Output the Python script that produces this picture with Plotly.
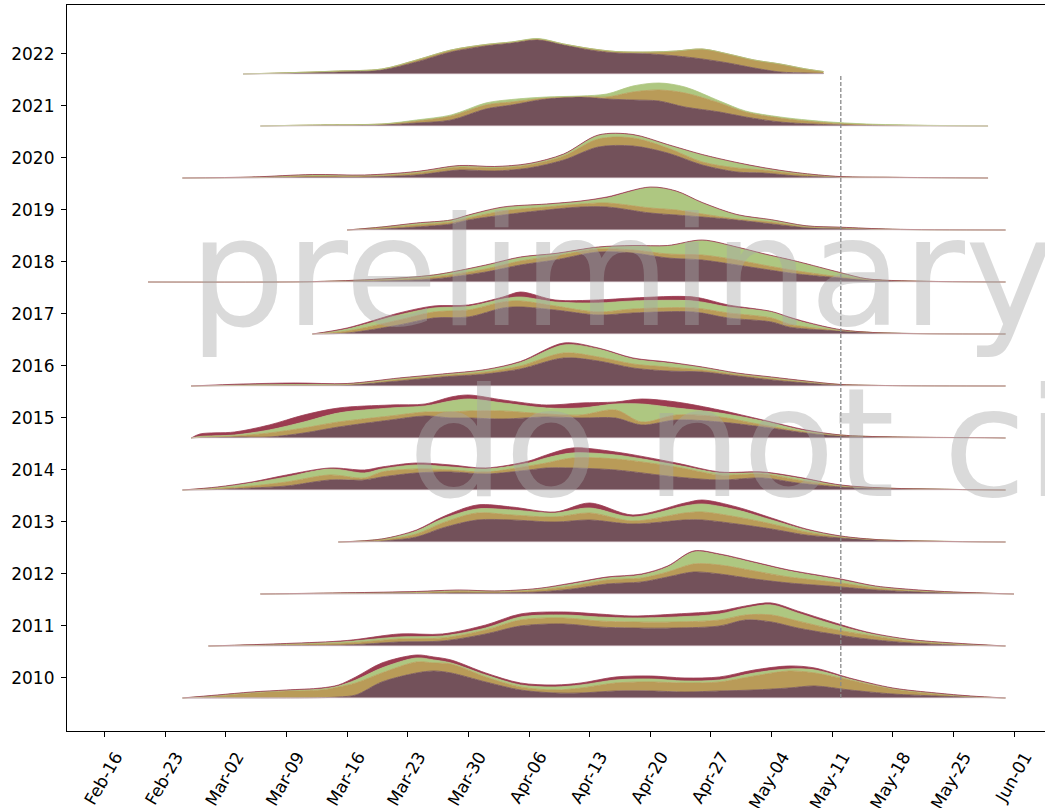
import numpy as np
import pandas as pd
import plotly.graph_objects as go

# Calendar used to place month-day values on a common date axis (non-leap year)
REF_YEAR = 2019

YEARS = list(range(2010, 2023))
TICK_DAYS = ["Feb-16", "Feb-23", "Mar-02", "Mar-09", "Mar-16", "Mar-23", "Mar-30",
             "Apr-06", "Apr-13", "Apr-20", "Apr-27", "May-04", "May-11", "May-18",
             "May-25", "Jun-01"]
CUTOFF_DAY = "May-12"
WATERMARK_LINES = ["preliminary", "do not cite"]

# Sample days per year and the thickness of each stacked layer on those days
DATES = {
    2010: ["Feb-25", "Mar-01", "Mar-05", "Mar-09", "Mar-13", "Mar-15", "Mar-17", "Mar-20", "Mar-24",
           "Mar-26", "Mar-28", "Apr-01", "Apr-05", "Apr-09", "Apr-12", "Apr-16", "Apr-20", "Apr-24",
           "Apr-28", "May-02", "May-06", "May-09", "May-13", "May-18", "May-23", "May-27", "May-31"],
    2011: ["Feb-28", "Mar-09", "Mar-16", "Mar-22", "Mar-27", "Apr-01", "Apr-05", "Apr-10", "Apr-14",
           "Apr-18", "Apr-23", "Apr-28", "May-01", "May-04", "May-07", "May-11", "May-15", "May-20",
           "May-25", "May-31"],
    2012: ["Mar-06", "Mar-16", "Mar-24", "Mar-29", "Apr-02", "Apr-07", "Apr-11", "Apr-15", "Apr-19",
           "Apr-22", "Apr-25", "Apr-28", "May-02", "May-06", "May-12", "May-16", "May-21", "May-25",
           "Jun-01"],
    2013: ["Mar-15", "Mar-20", "Mar-24", "Mar-27", "Mar-31", "Apr-04", "Apr-09", "Apr-13", "Apr-18",
           "Apr-24", "Apr-26", "Apr-30", "May-04", "May-08", "May-12", "May-17", "May-31"],
    2014: ["Feb-25", "Mar-01", "Mar-05", "Mar-09", "Mar-14", "Mar-18", "Mar-20", "Mar-24", "Mar-28",
           "Apr-01", "Apr-06", "Apr-08", "Apr-11", "Apr-16", "Apr-23", "Apr-28", "May-03", "May-07",
           "May-12", "May-17", "May-31"],
    2015: ["Feb-26", "Feb-27", "Mar-03", "Mar-07", "Mar-11", "Mar-15", "Mar-21", "Mar-25", "Mar-28",
           "Mar-30", "Apr-03", "Apr-08", "Apr-12", "Apr-16", "Apr-19", "Apr-23", "Apr-28", "May-03",
           "May-08", "May-12", "May-18", "May-29", "May-31"],
    2016: ["Feb-26", "Mar-04", "Mar-10", "Mar-16", "Mar-22", "Mar-27", "Apr-01", "Apr-05", "Apr-10",
           "Apr-14", "Apr-18", "Apr-22", "Apr-26", "Apr-30", "May-04", "May-08", "May-12", "May-18",
           "May-31"],
    2017: ["Mar-12", "Mar-16", "Mar-22", "Mar-26", "Mar-30", "Apr-03", "Apr-05", "Apr-09", "Apr-14",
           "Apr-18", "Apr-25", "Apr-29", "May-04", "May-06", "May-08", "May-12", "May-17", "May-31"],
    2018: ["Feb-21", "Mar-11", "Mar-20", "Mar-26", "Apr-01", "Apr-05", "Apr-09", "Apr-14", "Apr-18",
           "Apr-22", "Apr-26", "Apr-30", "May-03", "May-07", "May-12", "May-15", "May-19", "May-31"],
    2019: ["Mar-16", "Mar-20", "Mar-24", "Mar-28", "Mar-30", "Apr-03", "Apr-08", "Apr-12", "Apr-15",
           "Apr-20", "Apr-23", "Apr-26", "Apr-30", "May-04", "May-08", "May-12", "May-18", "May-31"],
    2020: ["Feb-25", "Mar-05", "Mar-12", "Mar-18", "Mar-24", "Mar-29", "Apr-02", "Apr-06", "Apr-10",
           "Apr-14", "Apr-18", "Apr-22", "Apr-26", "Apr-30", "May-03", "May-07", "May-12", "May-18",
           "May-29"],
    2021: ["Mar-06", "Mar-12", "Mar-20", "Mar-24", "Mar-28", "Apr-01", "Apr-04", "Apr-08", "Apr-12",
           "Apr-15", "Apr-18", "Apr-21", "Apr-24", "Apr-28", "May-01", "May-05", "May-10", "May-15",
           "May-21", "May-29"],
    2022: ["Mar-04", "Mar-10", "Mar-15", "Mar-20", "Mar-24", "Mar-28", "Apr-01", "Apr-04", "Apr-07",
           "Apr-10", "Apr-13", "Apr-16", "Apr-20", "Apr-23", "Apr-26", "Apr-29", "May-02", "May-05",
           "May-08", "May-10"],
}

BROWN = {
    2010: [0, 0, 0, 0, 0.3, 1, 3, 16, 25, 27, 25, 16, 8, 5, 5, 7, 7, 6, 7, 8, 10, 12, 8, 4, 2, 0.8, 0],
    2011: [0, 0.5, 1, 4, 5, 12, 20, 22, 19, 18, 18, 20, 26, 24, 18, 12, 7, 3, 1, 0],
    2012: [0, 0.3, 0.5, 1, 1, 2, 5, 10, 12, 17, 22, 20, 15, 11, 7, 4, 2, 1, 0],
    2013: [0, 1, 5, 14, 22, 22, 20, 22, 18, 22, 22, 18, 13, 7, 4, 1.5, 0],
    2014: [0, 0.5, 2, 4, 10, 10, 13, 17, 18, 16, 20, 22, 22, 20, 13, 10, 12, 7, 3, 1.5, 0],
    2015: [0, 0.5, 1, 1, 5, 11, 18, 22, 20, 20, 19, 21, 20, 20, 13, 18, 16, 11, 5, 2, 0.8, 0.3, 0],
    2016: [0, 0.5, 0.5, 1, 5, 9, 12, 17, 28, 25, 18, 15, 14, 10, 6, 3, 1, 0.4, 0],
    2017: [0, 1, 9, 16, 17, 26, 27, 24, 19, 21, 22, 16, 12, 7, 5, 3, 1, 0],
    2018: [0, 0.2, 1, 3, 10, 17, 22, 30, 29, 24, 22, 17, 13, 8, 4, 2, 0.8, 0],
    2019: [0, 1, 3, 6, 10, 15, 20, 23, 23, 17, 15, 13, 10, 6, 2.5, 1.5, 0.5, 0],
    2020: [0, 0.3, 1, 1, 3, 8, 7, 10, 18, 31, 32, 25, 13, 6, 5, 2, 0.8, 0.5, 0],
    2021: [0, 0.5, 1, 3, 6, 17, 21, 27, 29, 27, 26, 25, 19, 14, 9, 4, 1.5, 0.5, 0.2, 0],
    2022: [0, 1, 2, 4, 12, 22, 28, 31, 34, 29, 24, 21, 20, 18, 15, 11, 6, 2, 1, 0.5],
}

GOLD = {
    2010: [0, 2, 5, 7, 7.7, 10, 12, 9, 11, 8, 9, 5, 3, 3, 5, 8, 9, 9, 9, 14, 17, 13, 10, 5, 2, 0.7, 0],
    2011: [0, 1, 2, 3, 3, 4, 6, 6, 6, 6, 6, 6, 5, 7, 7, 5, 4, 2, 1, 0],
    2012: [0, 0.5, 1, 1.5, 1, 2, 3, 4, 4, 5, 8, 9, 8, 6, 4, 2, 1, 0.5, 0],
    2013: [0, 1, 3, 5, 7, 5, 5, 7, 3, 7, 8, 7, 5, 3, 1, 0.5, 0],
    2014: [0, 1, 2, 4, 5, 2, 5, 4, 2, 2, 4, 5, 10, 11, 10, 5, 4, 3, 1, 0.3, 0],
    2015: [0, 0.5, 1, 4, 5, 5, 4, 4, 6, 7, 8, 3, 3, 8, 3, 5, 5, 2, 1, 0.5, 0.1, 0, 0],
    2016: [0, 0.2, 0.5, 0.5, 1.5, 1.5, 2, 3, 5, 4, 4, 4, 2, 1.5, 1.5, 1, 0.3, 0, 0],
    2017: [0, 2, 5, 6, 7, 6, 6, 4, 3, 4, 4, 5, 4, 3, 2, 0.5, 0, 0],
    2018: [0, 0, 1, 2, 3, 4, 4, 3, 3, 4, 5, 5, 4, 3, 1, 0.5, 0.2, 0],
    2019: [0, 1, 2, 2, 2, 4, 3, 3, 4, 5, 5, 3, 1, 2, 0.5, 0.5, 0.1, 0],
    2020: [0, 0.3, 1, 1, 2, 3, 3, 3, 4, 8, 8, 5, 3, 4, 3, 2, 0.2, 0.1, 0],
    2021: [0, 0.5, 1, 2, 4, 4, 3, 1, 0.5, 2, 8, 11, 14, 9, 5, 4, 2, 1, 0.4, 0],
    2022: [0, 0.5, 1, 1, 2, 2, 1.5, 1, 1, 1, 1.5, 1.5, 2, 5, 10, 9, 8, 8, 4, 2],
}

GREEN = {
    2010: [0, 0.5, 0.5, 0.5, 1, 1, 3, 5, 4, 3, 1, 2, 2, 3, 3, 3, 3, 2, 2, 3, 2, 3, 1, 0.5, 0.5, 0, 0],
    2011: [0, 0.5, 1.5, 2, 2, 2, 3, 3, 4, 4, 5, 6, 7, 10, 8, 5, 2, 1, 0.5, 0],
    2012: [0, 0.2, 0.5, 1, 0.8, 1, 2, 2, 3, 5, 12, 10, 8, 6, 3, 1.5, 0.5, 0.3, 0],
    2013: [0, 1, 3, 4, 4, 5, 4, 5, 4, 7, 8, 7, 4, 2, 0.5, 0, 0],
    2014: [0, 1, 3, 5, 6, 5, 3, 4, 3, 3, 3, 5, 5, 4, 2, 2, 1, 2, 0.5, 0.1, 0],
    2015: [0, 0.5, 1, 3, 6, 9, 8, 6, 11, 12, 8, 6, 7, 6, 18, 7, 4, 4, 1, 0.5, 0, 0, 0],
    2016: [0, 0.3, 0.5, 0.5, 1, 1, 2, 3.5, 8, 8, 5, 4, 2.5, 1, 1, 0.7, 0.1, 0, 0],
    2017: [0, 2, 5, 4, 3.5, 3, 4, 4, 9, 8, 7, 6, 6, 6, 4, 0.5, 0, 0],
    2018: [0, 0, 1, 2, 3.5, 3.5, 2, 1.5, 4, 8, 14.5, 12.5, 11, 9, 4, 0.5, 0.1, 0],
    2019: [0, 1, 1.5, 2, 2.5, 3.5, 2.5, 2.5, 5, 20.5, 18.5, 11, 4, 2, 1, 0.5, 0.1, 0],
    2020: [0, 0.2, 1, 0.5, 1, 1, 1, 1, 1.5, 3.5, 3, 3, 7, 5, 2, 1, 0.2, 0, 0],
    2021: [0, 0, 0, 1, 1, 2, 2.5, 1, 0.5, 3, 6, 7, 6, 2, 1, 1, 1, 0.5, 0.2, 0],
    2022: [0, 0, 0, 0, 0, 0, 0, 0, 0.5, 0, 0, 0, 0, 0, 0, 0, 0, 0, 0, 0],
}

RED = {
    2010: [0, 0.5, 0.5, 0.5, 1, 1, 3, 5, 3, 3, 3, 2, 2, 2, 2, 3, 3, 3, 3, 3, 3, 2, 1, 0.5, 0.5, 0.5, 0],
    2011: [0, 0.5, 1, 3, 2, 3, 3, 3, 3, 2, 3, 3, 2, 2, 2, 2, 1, 0.5, 0.5, 0],
    2012: [0, 0.2, 0.5, 0.5, 0.2, 0.5, 1, 1, 1, 1, 1, 1, 1, 1, 1, 0.5, 0.5, 0.2, 0],
    2013: [0, 0, 1, 2, 4, 3, 1, 5, 2, 3, 4, 3, 2, 1, 0.5, 0, 0],
    2014: [0, 0.5, 1, 2, 1, 3, 2, 2, 2, 1, 2, 3, 5, 3, 2, 1, 1, 1, 0.5, 0.1, 0],
    2015: [0, 2.5, 3, 5, 7, 5, 3, 2, 4, 4, 3, 3, 5, 2, 5, 6, 3, 1, 1, 0, 0.1, 0, 0],
    2016: [0, 1, 1.5, 0.5, 0.5, 0.5, 0.5, 1, 2, 1, 1, 1, 0.5, 0.5, 0.5, 0.3, 0.1, 0, 0],
    2017: [0, 1, 2, 2, 1.5, 2, 5, 2, 3, 3, 4, 2, 0.5, 1, 1, 0.3, 0, 0],
    2018: [0, 0, 0, 0, 0.5, 0.5, 0.5, 0.5, 0.5, 0.5, 0.5, 0.5, 0.5, 0.5, 0.3, 0.2, 0.1, 0],
    2019: [0, 0, 0.5, 0, 0.5, 0.5, 0.5, 0.5, 1, 0.5, 0.5, 0.5, 0.5, 0.3, 0.2, 0.3, 0.1, 0],
    2020: [0, 0.2, 0.5, 0.5, 0.5, 0.5, 0.5, 0.5, 0.5, 0.5, 0.5, 0.5, 0.5, 0.5, 0.5, 0.3, 0.2, 0.1, 0],
    2021: [0] * 20,
    2022: [0] * 20,
}

LAYERS = [("brown", BROWN, "#73515a"), ("gold", GOLD, "#b99b58"),
          ("green", GREEN, "#aec781"), ("red", RED, "#9b3b50")]

HEIGHT_PER_UNIT = 1 / 52      # ridge height relative to the spacing between years
LABEL_OFFSET = 0.385          # year labels sit a little above each ridge's baseline


def to_date(day):
    return pd.to_datetime(f"{REF_YEAR}-{day}", format="%Y-%b-%d")


fig = go.Figure()

for year in YEARS:
    row = year - YEARS[0]
    x = [to_date(d) for d in DATES[year]]
    top = np.full(len(x), float(row))
    fig.add_trace(go.Scatter(x=x, y=top, mode="lines", hoverinfo="skip",
                             line=dict(width=0, shape="spline")))
    for name, table, color in LAYERS:
        vals = np.asarray(table[year], dtype=float)
        if not vals.any():
            continue
        top = top + vals * HEIGHT_PER_UNIT
        fig.add_trace(go.Scatter(
            x=x, y=top, mode="lines", fill="tonexty", fillcolor=color,
            line=dict(color=color, width=0.8, shape="spline", smoothing=0.9),
            hoverinfo="skip", name=f"{year} {name}"))

# thin pale baseline under every ridge
for year in YEARS:
    row = year - YEARS[0]
    x = [to_date(DATES[year][0]), to_date(DATES[year][-1])]
    fig.add_trace(go.Scatter(x=x, y=[row, row], mode="lines", hoverinfo="skip",
                             line=dict(color="#ece2e5", width=0.9)))

# vertical cut-off marker
fig.add_shape(type="line", xref="x", yref="y",
              x0=to_date(CUTOFF_DAY), x1=to_date(CUTOFF_DAY), y0=0, y1=len(YEARS) - 1,
              line=dict(color="#8a8a8a", width=1.3, dash="4px,2px"))

# semi-transparent watermark
wm_font = dict(family="DejaVu Sans", size=152, color="rgba(168,168,168,0.42)")
fig.add_annotation(text=WATERMARK_LINES[0], xref="paper", yref="paper",
                   x=(187 - 67) / 978, y=(731 - 272) / 726, xanchor="left", yanchor="middle",
                   showarrow=False, font=wm_font)
fig.add_annotation(text=WATERMARK_LINES[1], xref="paper", yref="paper",
                   x=(406 - 67) / 978, y=(731 - 443) / 726, xanchor="left", yanchor="middle",
                   showarrow=False, font=wm_font)

x_start = to_date(TICK_DAYS[0]) - pd.Timedelta(days=4.353)
x_end = to_date(TICK_DAYS[-1]) + pd.Timedelta(days=3.58)

tick_font = dict(family="DejaVu Sans", size=17, color="black")
fig.update_layout(
    width=1045, height=808,
    margin=dict(l=67, r=0, t=5, b=77),
    paper_bgcolor="white", plot_bgcolor="white",
    showlegend=False,
    xaxis=dict(
        range=[x_start, x_end], type="date", automargin=False,
        tickvals=[to_date(d) for d in TICK_DAYS], ticktext=TICK_DAYS,
        tickangle=-60, ticklabelshift=11, ticklabelstandoff=3,
        ticks="outside", ticklen=5, tickwidth=1.2, tickcolor="black",
        showline=True, mirror=True, linecolor="black", linewidth=1.2,
        showgrid=False, zeroline=False, tickfont=tick_font,
    ),
    yaxis=dict(
        range=[-0.635, 13.327], automargin=False,
        tickvals=[y - YEARS[0] + LABEL_OFFSET for y in YEARS],
        ticktext=[str(y) for y in YEARS],
        ticks="outside", ticklen=5, tickwidth=1.2, tickcolor="black",
        ticklabelstandoff=3,
        showline=True, linecolor="black", linewidth=1.2,
        showgrid=False, zeroline=False, tickfont=tick_font,
    ),
)

fig.write_html("out.html")
